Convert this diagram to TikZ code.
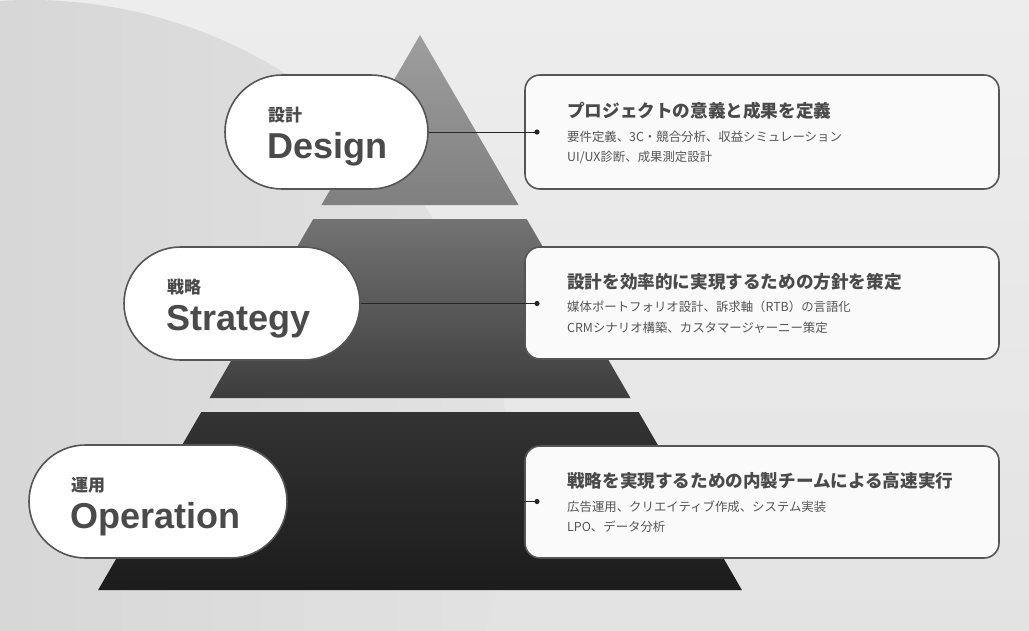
\documentclass[tikz,border=0pt]{standalone}
\usepackage{fontspec}
\setmainfont{Liberation Sans}
\newfontfamily\cjk{Noto Sans CJK JP}
\usetikzlibrary{shapes.misc}
\definecolor{ink}{HTML}{4A4A4A}
\definecolor{inksub}{HTML}{555555}
\definecolor{edge}{HTML}{555555}
\definecolor{bgtop}{HTML}{EDEDED}
\definecolor{bgbot}{HTML}{E3E3E3}
\definecolor{circL}{HTML}{CDCDCD}
\definecolor{circR}{HTML}{E2E2E2}
\definecolor{cardfill}{HTML}{FAFAFA}
\tikzset{
  pill/.style={rounded rectangle, draw=edge, line width=1.6pt, fill=white, inner sep=0pt},
  card/.style={rectangle, rounded corners=15pt, draw=edge, line width=1.6pt, fill=cardfill, inner sep=0pt},
  conn/.style={draw=black!85, line width=1pt},
  jplabel/.style={anchor=west, inner sep=0pt, text=ink, font=\cjk\bfseries\fontsize{17}{20}\selectfont},
  enlabel/.style={anchor=base west, inner sep=0pt, text=ink, font=\bfseries\fontsize{36}{42}\selectfont},
  cardtitle/.style={anchor=west, inner sep=0pt, text=ink, font=\cjk\bfseries\fontsize{17.6}{20}\selectfont},
  cardsub/.style={anchor=west, inner sep=0pt, text=inksub, font=\cjk\fontsize{12.4}{15}\selectfont},
}
\begin{document}
\begin{tikzpicture}[x=1pt,y=-1pt]
\useasboundingbox (0,0) rectangle (1029,630);
% background
\begin{scope}
\clip (0,0) rectangle (1029,630);
\shade[top color=bgtop, bottom color=bgbot] (0,0) rectangle (1029,630);
\shade[left color=circL, right color=circR] (30,480) circle[radius=480];
\end{scope}
% pyramid bands
\shade[top color=black!38, bottom color=black!50] (420,35) -- (518.6,205) -- (321.4,205) -- cycle;
\shade[top color=black!55, bottom color=black!76] (313.3,219) -- (526.7,219) -- (630.5,398) -- (209.5,398) -- cycle;
\shade[top color=black!80, bottom color=black!89] (201.3,412) -- (638.7,412) -- (741.9,590) -- (98.1,590) -- cycle;
% pills
\node[pill, minimum width=203pt, minimum height=114pt] (pd) at (326.5,132) {};
\node[pill, minimum width=236pt, minimum height=113pt] (ps) at (242,303.5) {};
\node[pill, minimum width=258pt, minimum height=113pt] (po) at (158,501.5) {};
% cards
\node[card, minimum width=474pt, minimum height=114pt] (cd) at (762,132) {};
\node[card, minimum width=474pt, minimum height=112pt] (cs) at (762,303) {};
\node[card, minimum width=474pt, minimum height=112pt] (co) at (762,502) {};
% connector ends
\coordinate (dd) at (537,132);
\coordinate (ds) at (537,303.5);
\coordinate (do) at (537,501.5);
\draw[conn] (pd.east) -- (dd);
\draw[conn] (ps.east) -- (ds);
\draw[conn] (po.east) -- (do);
\fill[black!85] (dd) circle[radius=2.6];
\fill[black!85] (ds) circle[radius=2.6];
\fill[black!85] (do) circle[radius=2.6];
% pill texts
\node[jplabel] (jd) at (268,115) {設計};
\node[enlabel] (ed) at (267,158) {Design};
\node[jplabel] (js) at (167,287) {戦略};
\node[enlabel] (es) at (166,330) {Strategy};
\node[jplabel] (jo) at (71,485) {運用};
\node[enlabel] (eo) at (70,528) {Operation};
% card texts
\node[cardtitle] (td) at (567,111) {プロジェクトの意義と成果を定義};
\node[cardsub] (sd1) at (567,137) {要件定義、3C・競合分析、収益シミュレーション};
\node[cardsub] (sd2) at (567,157) {UI/UX診断、成果測定設計};
\node[cardtitle] (ts) at (567,282) {設計を効率的に実現するための方針を策定};
\node[cardsub] (ss1) at (567,307) {媒体ポートフォリオ設計、訴求軸（RTB）の言語化};
\node[cardsub] (ss2) at (567,328) {CRMシナリオ構築、カスタマージャーニー策定};
\node[cardtitle] (to) at (567,481) {戦略を実現するための内製チームによる高速実行};
\node[cardsub] (so1) at (567,507) {広告運用、クリエイティブ作成、システム実装};
\node[cardsub] (so2) at (567,527) {LPO、データ分析};
\end{tikzpicture}
\end{document}
